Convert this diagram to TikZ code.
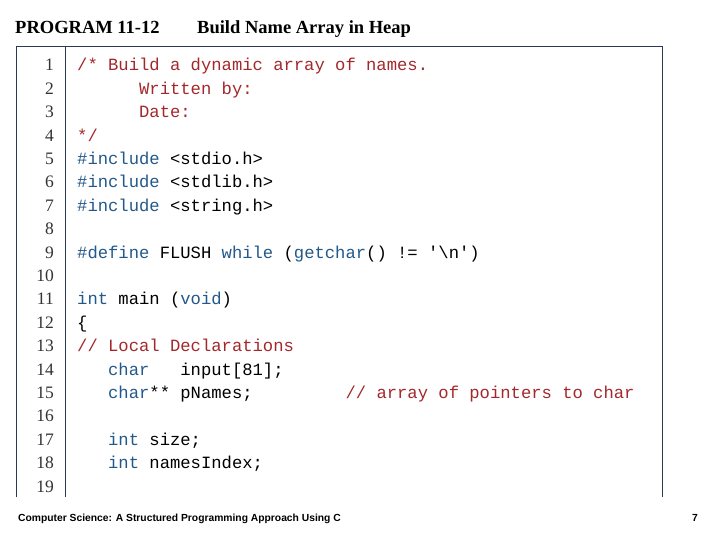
\documentclass[tikz,border=0pt]{standalone}
\usepackage{fontspec}
\setmainfont{Liberation Serif}
\setmonofont{Liberation Mono}
\setsansfont{Liberation Sans}
\definecolor{cm}{HTML}{A3282C}
\definecolor{kw}{HTML}{23598A}
\definecolor{frame}{HTML}{2A3A50}
\definecolor{num}{HTML}{333333}
\newcommand{\K}[1]{\textcolor{kw}{#1}}
\newcommand{\C}[1]{\textcolor{cm}{#1}}
\begin{document}
\begin{tikzpicture}[x=1pt,y=1pt,
  code/.style={anchor=base west,inner sep=0pt,font=\fontsize{17.2}{20}\ttfamily},
  lnum/.style={anchor=base east,inner sep=0pt,font=\fontsize{17.5}{20}\rmfamily,text=num},
  hdr/.style={anchor=base west,inner sep=0pt,font=\fontsize{18.5}{22}\rmfamily\bfseries},
  foot/.style={anchor=base west,inner sep=0pt,font=\fontsize{10.3}{12}\sffamily\bfseries}]
\useasboundingbox (0,0) rectangle (720,540);
\node[hdr] (h1) at (15,506) {PROGRAM 11-12};
\node[hdr] (h2) at (197,506) {Build Name Array in Heap};
\draw[frame,line width=1pt] (16,43) -- (16,493) -- (662,493) -- (662,43);
\draw[frame,line width=0.8pt] (65,43) -- (65,493);
\foreach \i in {1,...,19} {
  \node[lnum] (n\i) at (54,{540-66-(\i-1)*23.4-5}) {\i};
}
\newcommand{\Y}[1]{540-66-(#1-1)*23.4-5}
\node[code] (l1) at (77,{\Y{1}}) {\C{/*~Build~a~dynamic~array~of~names.}};
\node[code] (l2) at (77,{\Y{2}}) {\C{~~~~~~Written~by:}};
\node[code] (l3) at (77,{\Y{3}}) {\C{~~~~~~Date:}};
\node[code] (l4) at (77,{\Y{4}}) {\C{*/}};
\node[code] (l5) at (77,{\Y{5}}) {\K{\#include}~<stdio.h>};
\node[code] (l6) at (77,{\Y{6}}) {\K{\#include}~<stdlib.h>};
\node[code] (l7) at (77,{\Y{7}}) {\K{\#include}~<string.h>};
\node[code] (l9) at (77,{\Y{9}}) {\K{\#define}~FLUSH~\K{while}~(\K{getchar}()~!=~'\textbackslash n')};
\node[code] (l11) at (77,{\Y{11}}) {\K{int}~main~(\K{void})};
\node[code] (l12) at (77,{\Y{12}}) {\{};
\node[code] (l13) at (77,{\Y{13}}) {\C{//~Local~Declarations}};
\node[code] (l14) at (77,{\Y{14}}) {~~~\K{char}~~~input[81];};
\node[code] (l15) at (77,{\Y{15}}) {~~~\K{char}**~pNames;~~~~~~~~~\C{//~array~of~pointers~to~char}};
\node[code] (l17) at (77,{\Y{17}}) {~~~\K{int}~size;};
\node[code] (l18) at (77,{\Y{18}}) {~~~\K{int}~namesIndex;};
\node[foot] (f1) at (18,18) {Computer Science: A Structured Programming Approach Using C};
\node[foot] (f2) at (692,18) {7};
\end{tikzpicture}
\end{document}
